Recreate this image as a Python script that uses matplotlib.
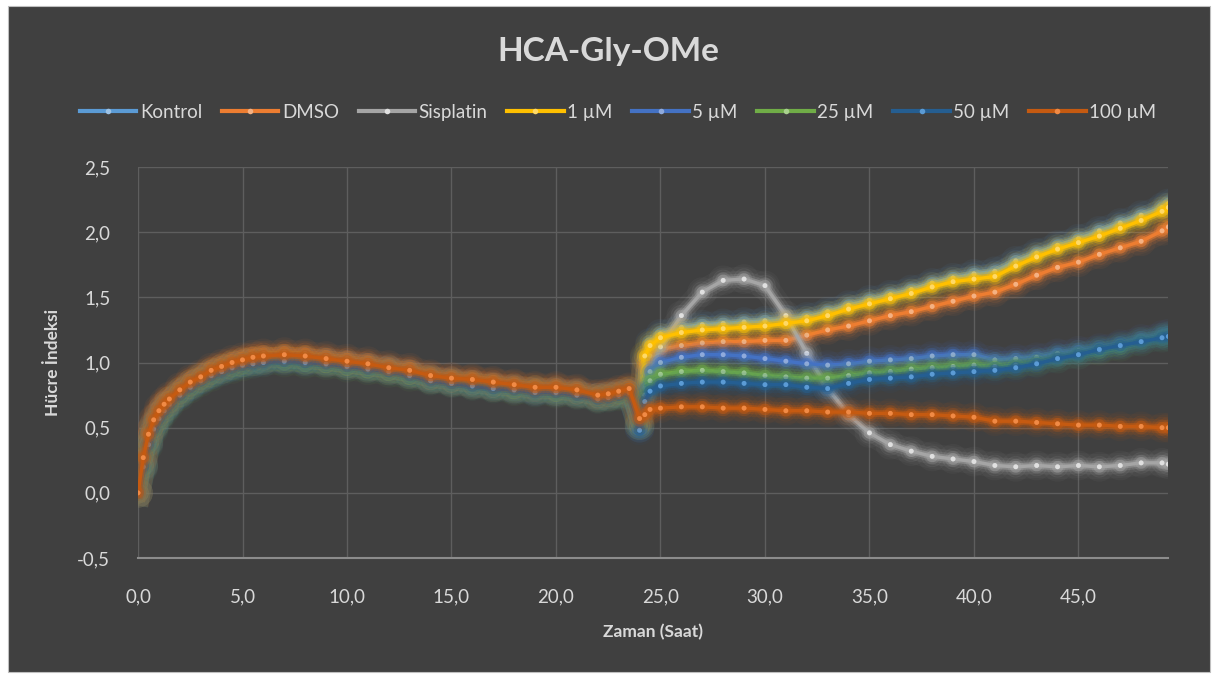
import matplotlib
matplotlib.use("Agg")
import matplotlib.pyplot as plt
import matplotlib.patheffects as pe
from matplotlib.lines import Line2D
from matplotlib.patches import Rectangle
from matplotlib.ticker import FuncFormatter, MultipleLocator

plt.rcParams["font.family"] = ["Lato", "DejaVu Sans"]

# time axis (hours)
saat = [0, 0.25, 0.5, 0.75, 1, 1.25, 1.5, 2, 2.5, 3, 3.5, 4, 4.5, 5, 5.5, 6, 7, 8, 9, 10,
        11, 12, 13, 14, 15, 16, 17, 18, 19, 20, 21, 22, 22.5, 23, 23.5, 24,
        24.25, 24.5, 25, 26, 27, 28, 29, 30, 31, 32, 33, 34, 35, 36, 37, 38, 39, 40,
        41, 42, 43, 44, 45, 46, 47, 48, 49, 49.3]

kontrol = [0, 0.20, 0.38, 0.50, 0.58, 0.64, 0.69, 0.76, 0.82, 0.87, 0.91, 0.95, 0.97, 1.00, 1.01, 1.02,
           1.03, 1.02, 1.01, 0.99, 0.97, 0.95, 0.92, 0.88, 0.86, 0.84, 0.82, 0.80, 0.79, 0.78, 0.77,
           0.74, 0.75, 0.76, 0.78, 0.50,
           1.03, 1.15, 1.22, 1.27, 1.29, 1.30, 1.31, 1.32, 1.33, 1.35, 1.39, 1.44, 1.48, 1.52, 1.56,
           1.61, 1.65, 1.68, 1.70, 1.78, 1.84, 1.90, 1.95, 2.01, 2.07, 2.13, 2.19, 2.22]
dmso = [0, 0.28, 0.46, 0.57, 0.65, 0.70, 0.74, 0.81, 0.87, 0.91, 0.96, 0.99, 1.02, 1.04, 1.06, 1.07,
        1.08, 1.07, 1.05, 1.03, 1.01, 0.98, 0.96, 0.91, 0.89, 0.88, 0.86, 0.84, 0.82, 0.82, 0.80,
        0.76, 0.77, 0.79, 0.81, 0.56,
        0.98, 1.05, 1.10, 1.13, 1.15, 1.16, 1.16, 1.17, 1.17, 1.21, 1.25, 1.28, 1.32, 1.36, 1.39,
        1.43, 1.47, 1.51, 1.54, 1.60, 1.67, 1.73, 1.77, 1.83, 1.88, 1.93, 2.01, 2.04]
sisplatin = [0, 0.22, 0.40, 0.52, 0.60, 0.66, 0.70, 0.77, 0.83, 0.88, 0.92, 0.95, 0.98, 1.00, 1.01, 1.02,
             1.02, 1.01, 1.00, 0.98, 0.96, 0.94, 0.91, 0.87, 0.85, 0.83, 0.81, 0.79, 0.78, 0.77, 0.76,
             0.73, 0.74, 0.75, 0.77, 0.52,
             0.75, 0.92, 1.12, 1.36, 1.54, 1.63, 1.64, 1.59, 1.36, 1.07, 0.80, 0.60, 0.46, 0.37, 0.32,
             0.28, 0.26, 0.24, 0.21, 0.20, 0.21, 0.20, 0.21, 0.20, 0.21, 0.23, 0.23, 0.22]
um1 = [0, 0.21, 0.39, 0.51, 0.59, 0.65, 0.70, 0.77, 0.83, 0.88, 0.92, 0.95, 0.98, 1.00, 1.01, 1.02,
       1.03, 1.02, 1.00, 0.98, 0.96, 0.94, 0.91, 0.87, 0.85, 0.83, 0.81, 0.80, 0.79, 0.78, 0.76,
       0.73, 0.74, 0.76, 0.78, 0.52,
       1.05, 1.13, 1.19, 1.23, 1.25, 1.26, 1.27, 1.28, 1.30, 1.32, 1.36, 1.41, 1.45, 1.49, 1.53,
       1.58, 1.62, 1.64, 1.66, 1.74, 1.81, 1.87, 1.92, 1.97, 2.03, 2.09, 2.16, 2.19]
um5 = [0, 0.21, 0.39, 0.51, 0.59, 0.65, 0.69, 0.76, 0.82, 0.87, 0.91, 0.94, 0.97, 0.99, 1.00, 1.01,
       1.02, 1.01, 1.00, 0.98, 0.96, 0.94, 0.91, 0.87, 0.85, 0.83, 0.81, 0.80, 0.78, 0.78, 0.76,
       0.73, 0.74, 0.76, 0.77, 0.50,
       0.80, 0.93, 1.00, 1.04, 1.06, 1.06, 1.05, 1.03, 1.01, 0.99, 0.98, 0.99, 1.01, 1.02, 1.03,
       1.05, 1.06, 1.06, 1.02, 1.03, 1.04, 1.07, 1.09, 1.11, 1.14, 1.18, 1.21, 1.22]
um25 = [0, 0.19, 0.36, 0.48, 0.56, 0.62, 0.67, 0.74, 0.80, 0.85, 0.89, 0.93, 0.95, 0.97, 0.99, 1.00,
        1.00, 0.99, 0.98, 0.96, 0.94, 0.92, 0.89, 0.86, 0.84, 0.82, 0.80, 0.78, 0.77, 0.76, 0.75,
        0.72, 0.73, 0.74, 0.76, 0.52,
        0.75, 0.86, 0.91, 0.93, 0.94, 0.93, 0.92, 0.90, 0.89, 0.88, 0.88, 0.90, 0.92, 0.93, 0.95,
        0.96, 0.97, 0.98, 0.97, 0.98, 1.00, 1.03, 1.06, 1.09, 1.12, 1.16, 1.19, 1.20]
um50 = [0, 0.20, 0.37, 0.49, 0.57, 0.63, 0.68, 0.75, 0.81, 0.86, 0.90, 0.93, 0.96, 0.98, 0.99, 1.00,
        1.01, 1.00, 0.99, 0.97, 0.95, 0.93, 0.90, 0.86, 0.84, 0.82, 0.80, 0.79, 0.77, 0.77, 0.75,
        0.72, 0.73, 0.75, 0.77, 0.48,
        0.70, 0.78, 0.82, 0.84, 0.85, 0.85, 0.84, 0.83, 0.83, 0.81, 0.80, 0.84, 0.87, 0.88, 0.89,
        0.91, 0.92, 0.93, 0.94, 0.96, 0.99, 1.03, 1.06, 1.10, 1.13, 1.16, 1.19, 1.20]
um100 = [0, 0.27, 0.45, 0.56, 0.63, 0.68, 0.72, 0.79, 0.85, 0.89, 0.94, 0.97, 1.00, 1.02, 1.04, 1.05,
         1.06, 1.05, 1.03, 1.01, 0.99, 0.96, 0.94, 0.90, 0.88, 0.87, 0.85, 0.83, 0.81, 0.81, 0.79,
         0.75, 0.76, 0.78, 0.80, 0.57,
         0.60, 0.64, 0.65, 0.66, 0.66, 0.65, 0.65, 0.64, 0.63, 0.63, 0.62, 0.62, 0.61, 0.61, 0.60,
         0.60, 0.59, 0.58, 0.55, 0.55, 0.54, 0.53, 0.52, 0.52, 0.51, 0.51, 0.50, 0.50]

labels = ["Kontrol", "DMSO", "Sisplatin", "1 µM", "5 µM", "25 µM", "50 µM", "100 µM"]
series = [kontrol, dmso, sisplatin, um1, um5, um25, um50, um100]
line_cols = ["#5B9BD5", "#ED7D31", "#A5A5A5", "#FFC000", "#4472C4", "#70AD47", "#255E91", "#C55A11"]
mark_cols = ["#9DC3E6", "#F4B183", "#E0E0E0", "#FFD966", "#8FAADC", "#A9D18E", "#5B9BD5", "#F08A45"]

bg = "#404040"
txt = "#D9D9D9"

fig = plt.figure(figsize=(12.17, 6.75), dpi=100, facecolor="white")
fig.patches.append(Rectangle((0.0066, 0.0044), 0.988, 0.987, transform=fig.transFigure,
                             facecolor=bg, edgecolor="#BFBFBF", lw=0.8, zorder=-5))
ax = fig.add_axes([0.1134, 0.1733, 0.8466, 0.5793])
ax.set_facecolor(bg)

for y, lab, lc, mc in zip(series, labels, line_cols, mark_cols):
    ax.plot(saat, y, "-o", color=lc, lw=2.5, ms=3.5, mfc=mc, mec="none", zorder=3,
            path_effects=[pe.Stroke(linewidth=18, foreground=lc, alpha=0.06),
                          pe.Stroke(linewidth=12, foreground=lc, alpha=0.12),
                          pe.Stroke(linewidth=8, foreground=lc, alpha=0.22),
                          pe.Stroke(linewidth=5, foreground=lc, alpha=0.5),
                          pe.Normal()])

ax.set_xlim(0, 49.3)
ax.set_ylim(-0.5, 2.5)
ax.xaxis.set_major_locator(MultipleLocator(5))
ax.yaxis.set_major_locator(MultipleLocator(0.5))
ax.xaxis.set_major_formatter(FuncFormatter(lambda v, p: f"{v:.1f}".replace(".", ",")))
ax.yaxis.set_major_formatter(FuncFormatter(lambda v, p: f"{v:.1f}".replace(".", ",")))
ax.grid(True, color="#5E5E5E", lw=1)
ax.set_axisbelow(True)
for s in ["top", "right", "left"]:
    ax.spines[s].set_visible(False)
ax.spines["bottom"].set_color("#8C8C8C")
ax.spines["bottom"].set_linewidth(1.5)
ax.tick_params(length=0, colors=txt, labelsize=13.5)
ax.tick_params(axis="x", pad=22)
ax.tick_params(axis="y", pad=20)

ax.set_xlabel("Zaman (Saat)", color=txt, fontsize=12.5, fontweight="bold", labelpad=13)
ax.set_ylabel("Hücre İndeksi", color=txt, fontsize=12.5, fontweight="bold", labelpad=12)

fig.text(0.5, 0.923, "HCA-Gly-OMe", ha="center", va="center", color=txt,
         fontsize=24, fontweight="bold")

handles = [Line2D([], [], color=lc, lw=3, marker="o", ms=4, mfc=mc, mec="none")
           for lc, mc in zip(line_cols, mark_cols)]
fig.legend(handles, labels, loc="center", bbox_to_anchor=(0.508, 0.834), ncol=8,
           frameon=False, fontsize=13.5, labelcolor=txt, handlelength=3.0,
           handletextpad=0.2, columnspacing=1.05)

fig.savefig("out.png", dpi=100, facecolor="white")
